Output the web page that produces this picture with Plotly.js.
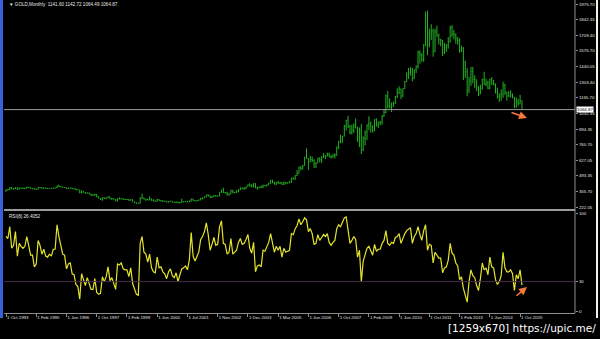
<!DOCTYPE html>
<html>
<head>
<meta charset="utf-8">
<script src="https://cdn.plot.ly/plotly-3.0.1.min.js"></script>
<style>html,body{margin:0;padding:0;background:#000;}#chart{width:600px;height:339px;}</style>
</head>
<body>
<div id="chart"></div>
<script>
// ---- data (monthly GOLD bars, bar index 0 = Oct 1993) ----
const dateLabels = ['1 Oct 1993','1 Feb 1995','1 Jun 1996','1 Oct 1997','1 Feb 1999','1 Jun 2000','1 Jul 2001','1 Nov 2002','1 Dec 2003','1 Mar 2005','1 Jun 2006','1 Oct 2007','1 Feb 2009','1 Jun 2010','1 Oct 2011','1 Feb 2013','1 Jun 2014','1 Oct 2015'];
const labelBars = [0,16,32,48,64,80,96,112,128,144,160,176,192,208,224,240,256,272];

const open = [
355,370,371,391,378,381,390,376,387,385,384,385,394,389,383,383,375,376,392,389,
384,387,383,382,384,383,387,387,405,400,396,392,391,382,385,386,379,378,371,369,
345,358,349,340,345,334,326,325,332,311,296,290,304,297,301,310,293,296,288,273,
293,292,294,288,287,287,279,286,268,261,255,254,299,299,291,290,283,293,278,274,
272,288,276,278,273,270,264,270,272,265,263,267,258,263,267,268,270,266,273,293,
279,275,279,282,296,301,308,326,318,304,312,323,316,317,347,367,347,345,334,336,
361,346,349,354,375,388,383,386,398,416,403,397,426,388,394,395,391,408,406,415,
428,453,438,422,435,428,435,418,436,429,431,433,473,470,495,513,569,556,582,654,
643,613,633,623,599,604,646,632,650,665,662,679,659,650,665,673,743,789,783,834,
923,972,916,864,886,926,912,833,880,718,816,869,928,942,916,883,980,926,954,955,
1007,1040,1182,1096,1081,1118,1113,1179,1207,1244,1181,1248,1307,1357,1386,1421,1332,1411,1439,1556,
1536,1500,1628,1825,1620,1722,1746,1565,1737,1710,1669,1664,1561,1604,1622,1648,1773,1719,1713,1675,
1663,1579,1595,1472,1393,1234,1313,1396,1327,1323,1250,1202,1244,1326,1284,1296,1250,1327,1282,1287,
1210,1171,1182,1199,1278,1213,1183,1182,1190,1172,1095,1134,1115,1141.60
];
const high = [
374,378,393,396,386,392,392,389,390,388,389,398,397,391,384,384,379,393,396,392,
391,389,388,387,386,389,389,408,416,401,397,394,391,389,391,387,383,383,374,369,
366,358,349,348,346,336,332,337,336,314,298,307,305,304,315,311,299,297,291,298,
306,300,297,292,291,291,290,289,268,262,259,307,338,301,292,292,315,295,290,279,
292,290,280,278,274,275,273,276,272,266,268,268,265,295,272,275,272,279,294,293,
279,281,288,302,304,311,327,332,322,316,325,324,322,349,372,389,352,354,340,372,
371,352,368,376,391,390,392,400,417,427,420,428,428,396,398,409,416,412,418,434,
456,457,438,439,447,438,437,442,438,435,447,474,478,497,541,571,575,586,655,730,
644,664,660,636,609,650,648,663,690,672,693,692,670,682,686,745,795,848,838,933,
977,1011,933,934,945,987,915,910,940,834,885,938,1006,962,929,982,988,962,966,1018,
1070,1195,1227,1162,1126,1134,1183,1249,1266,1245,1251,1313,1388,1425,1431,1424,1411,1447,1575,1577,
1553,1632,1912,1921,1764,1803,1764,1764,1791,1721,1678,1668,1641,1631,1693,1790,1796,1754,1723,1694,
1681,1617,1605,1487,1424,1348,1434,1434,1362,1324,1267,1280,1332,1392,1331,1315,1332,1345,1322,1290,
1255,1205,1238,1307,1289,1220,1224,1232,1205,1174,1170,1157,1192,1142.72
];
const low = [
354,366,369,376,374,377,369,374,382,379,376,385,385,380,375,371,372,374,387,381,
383,381,380,381,381,382,384,386,398,393,390,389,380,381,384,378,377,369,367,342,
340,346,337,340,334,318,319,320,306,296,283,276,294,291,301,292,285,287,272,272,
290,290,285,284,284,277,278,268,257,252,251,253,294,287,276,280,282,276,271,268,
271,276,270,267,268,263,263,268,262,260,255,255,255,262,264,265,264,265,270,277,
271,271,277,282,288,299,307,315,301,302,311,312,313,316,344,344,340,320,319,336,
341,343,342,351,368,378,369,376,398,399,393,391,386,371,383,387,386,402,398,411,
424,428,417,412,425,420,414,414,418,424,429,432,459,456,489,513,539,546,578,639,
543,610,612,560,560,603,609,604,647,637,660,652,642,649,642,666,723,773,780,833,
884,908,851,851,863,901,786,741,681,705,753,800,887,865,866,878,920,904,930,934,
1003,1034,1075,1075,1044,1087,1113,1164,1200,1155,1176,1243,1305,1330,1360,1309,1329,1381,1419,1462,
1478,1478,1611,1535,1604,1667,1523,1564,1691,1627,1613,1527,1545,1564,1592,1647,1692,1672,1635,1626,
1555,1563,1321,1338,1180,1208,1270,1292,1251,1225,1182,1198,1238,1277,1268,1240,1240,1281,1273,1205,
1161,1131,1142,1167,1191,1142,1175,1168,1162,1077,1080,1098,1112,1064.49
];
const close = [
370,371,391,378,381,390,376,387,385,384,385,394,389,383,383,375,376,392,389,384,
387,383,382,384,383,387,387,405,400,396,392,391,382,385,386,379,378,371,369,345,
358,349,340,345,334,326,325,332,311,296,290,304,297,301,310,293,296,288,273,293,
292,294,288,287,287,279,286,268,261,255,254,299,299,291,290,283,293,278,274,272,
288,276,278,273,270,264,270,272,265,263,267,258,263,267,268,270,266,273,293,279,
275,279,282,296,301,308,326,318,304,312,323,316,317,347,367,347,345,334,336,361,
346,349,354,375,388,383,386,398,416,403,397,426,388,394,395,391,408,406,415,428,
453,438,422,435,428,435,418,436,429,431,433,473,470,495,513,569,556,582,654,643,
613,633,623,599,604,646,632,650,665,662,679,659,650,665,673,743,789,783,834,923,
972,916,864,886,926,912,833,880,718,816,869,928,942,916,883,980,926,954,955,1007,
1040,1182,1096,1081,1118,1113,1179,1207,1244,1181,1248,1307,1357,1386,1421,1332,1411,1439,1556,1536,
1500,1628,1825,1620,1722,1746,1565,1737,1710,1669,1664,1561,1604,1622,1648,1773,1719,1713,1675,1663,
1579,1595,1472,1393,1234,1313,1396,1327,1323,1250,1202,1244,1326,1284,1296,1250,1327,1282,1287,1210,
1171,1182,1199,1278,1213,1183,1182,1190,1172,1095,1134,1115,1142,1064.87
];
const rsi = [
76,74,86,64,67,81,56,69,66,64,
66,76,67,57,57,45,48,72,67,58,
63,56,55,58,56,63,63,88,76,67,
58,57,43,48,49,38,37,27,25,12,
38,32,26,34,27,22,22,33,19,17,
18,35,30,35,45,31,34,28,22,48,
47,49,43,42,42,35,44,28,22,17,
16,69,76,60,58,50,58,44,40,39,
55,44,45,40,38,33,40,43,36,34,
39,30,37,43,44,46,42,52,80,56,
51,56,60,73,76,81,90,78,62,68,
75,67,68,86,92,69,68,58,60,74,
58,60,62,70,74,68,69,73,78,64,
59,70,40,46,47,45,62,61,66,70,
79,69,60,66,62,66,55,64,60,61,
62,79,78,84,87,94,88,91,95,93,
81,84,79,68,69,78,72,75,78,76,
79,70,67,70,72,84,88,86,91,95,
96,81,69,72,76,73,55,62,30,51,
58,64,66,62,57,68,61,63,63,69,
72,82,69,67,70,69,75,76,79,69,
75,79,82,84,85,69,76,79,86,
78,72,82,88,62,68,67,49,60,57,54,
54,39,44,45,52,69,59,57,49,46,
32,35,23,17,9,30,42,36,34,26,
21,33,49,42,44,37,55,45,44,32,
27,30,36,60,44,40,40,42,38,21,
37,33,42,26.4052
];
const priceTicks = [1975.70,1842.35,1709.40,1576.70,1440.05,1303.40,1165.70,1032.35,894.35,760.70,627.05,493.35,355.70,222.05];
const priceTickText = ['1975.70','1842.35','1709.40','1576.70','1440.05','1303.40','1165.70','1032.35','894.35','760.70','627.05','493.35','355.70','222.05'];
const rsiTicks = [0,30,100];
const rsiTickText = ['0','30','100'];
const lastPrice = 1064.87;
const rsiLevel = 30;
const headerText = '\u25BC GOLD,Monthly\u00a0\u00a01141.60 1142.72 1064.49 1064.87';
const rsiHeader = 'RSI(8) 26.4052';

// ---- build ----
const xs = close.map((_, i) => i);
const barColor = '#22b422';
const traces = [
  {type:'ohlc', x:xs, open:open, high:high, low:low, close:close, xaxis:'x', yaxis:'y',
   increasing:{line:{color:barColor, width:1}}, decreasing:{line:{color:barColor, width:1}},
   tickwidth:0.3, hoverinfo:'skip', showlegend:false},
  {type:'scatter', mode:'lines', x:xs, y:rsi, xaxis:'x', yaxis:'y2',
   line:{color:'#e4e42c', width:1.2}, hoverinfo:'skip', showlegend:false}
];

const P = (px) => (313 - px) / 313;   // paper y from pixel row
const Q = (px) => (px - 4) / 571;     // paper x from pixel column
const tickFont = {family:'Liberation Sans, Arial, sans-serif', size:4.4, color:'#e2e2e2'};

const layout = {
  width:600, height:339,
  paper_bgcolor:'#000', plot_bgcolor:'#000',
  margin:{l:4, r:25, t:0, b:26},
  showlegend:false,
  font:{family:'Liberation Sans, Arial, sans-serif', color:'#e6e6e6', size:4.4},
  xaxis:{range:[-1.06, 301.06], anchor:'y2', showgrid:false, zeroline:false,
    showline:true, linecolor:'#8c8c8c', linewidth:1, ticks:'outside', ticklen:3, tickcolor:'#8c8c8c',
    tickvals:labelBars, ticktext:dateLabels, tickangle:0, ticklabelposition:'outside right', tickfont:tickFont,
    rangeslider:{visible:false}, fixedrange:true},
  yaxis:{domain:[P(209), 1], range:[205.0, 2012.9], side:'right', anchor:'x', showgrid:false, zeroline:false,
    ticks:'outside', ticklen:2, tickcolor:'#8c8c8c', tickvals:priceTicks, ticktext:priceTickText, tickfont:tickFont},
  yaxis2:{domain:[0, P(211)], range:[-2.04, 102.04], side:'right', anchor:'x', showgrid:false, zeroline:false,
    ticks:'outside', ticklen:2, tickcolor:'#8c8c8c', tickvals:rsiTicks, ticktext:rsiTickText, tickfont:tickFont},
  shapes:[
    {type:'line', xref:'paper', x0:0, x1:1, yref:'y', y0:lastPrice, y1:lastPrice, line:{color:'#9a9a9a', width:1}},
    {type:'line', xref:'paper', x0:0, x1:1, yref:'y2', y0:rsiLevel, y1:rsiLevel, line:{color:'#4a2a4c', width:1}},
    {type:'line', xref:'paper', x0:0, x1:1, yref:'paper', y0:P(210), y1:P(210), line:{color:'#9a9a9a', width:2}},
    {type:'line', xref:'paper', x0:1, x1:1, yref:'paper', y0:0, y1:1, line:{color:'#8c8c8c', width:1}},
    {type:'rect', xref:'paper', x0:Q(0), x1:Q(3), yref:'paper', y0:P(318), y1:1, fillcolor:'#3a5fd8', line:{width:0}},
    {type:'line', xref:'paper', x0:Q(597), x1:Q(597), yref:'paper', y0:P(318), y1:1, line:{color:'#f2f2e6', width:2}}
  ],
  annotations:[
    {xref:'paper', yref:'paper', x:Q(7), y:P(5), xanchor:'left', yanchor:'middle', showarrow:false,
     text:headerText, font:{family:'Liberation Sans, Arial, sans-serif', size:4.6, color:'#e8e8e8'}},
    {xref:'paper', yref:'paper', x:Q(7), y:P(216), xanchor:'left', yanchor:'middle', showarrow:false,
     text:rsiHeader, font:{family:'Liberation Sans, Arial, sans-serif', size:4.6, color:'#e8e8e8'}},
    {xref:'paper', yref:'y', x:1, y:lastPrice, xanchor:'left', yanchor:'middle', xshift:1, showarrow:false,
     text:'1064.87', bgcolor:'#ffffff', borderpad:0, font:{family:'Liberation Sans, Arial, sans-serif', size:4.4, color:'#000'}},
    {xref:'paper', yref:'paper', x:Q(527), y:P(118), ax:-17, ay:-6, showarrow:true, arrowhead:2, arrowsize:1,
     arrowwidth:1.6, arrowcolor:'#f5783c', text:''},
    {xref:'paper', yref:'paper', x:Q(527), y:P(287), ax:-12, ay:10, showarrow:true, arrowhead:2, arrowsize:1,
     arrowwidth:1.6, arrowcolor:'#f5783c', text:''},
    {xref:'paper', yref:'paper', x:Q(598), y:P(328), xanchor:'right', yanchor:'middle', showarrow:false,
     text:'[1259x670] https://upic.me/', font:{family:'DejaVu Sans, sans-serif', size:10.5, color:'#ffffff'}}
  ]
};

Plotly.newPlot('chart', traces, layout, {staticPlot:true, displayModeBar:false});
</script>
</body>
</html>
